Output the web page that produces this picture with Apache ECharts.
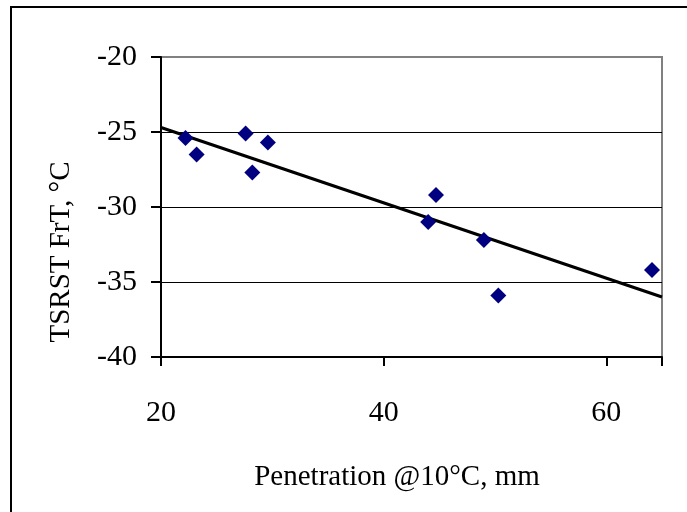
<!DOCTYPE html>
<html>
<head>
<meta charset="utf-8">
<script src="https://cdn.jsdelivr.net/npm/echarts@6/dist/echarts.min.js"></script>
<style>html,body{margin:0;padding:0;background:#fff;}#c{width:687px;height:512px;}</style>
</head>
<body>
<div id="c"></div>
<script>
const penetration = [22.2, 23.2, 27.6, 28.2, 29.6, 44.0, 44.7, 49.0, 50.3, 64.1];
const tsrstFrT = [-25.4, -26.5, -25.1, -27.7, -25.7, -31.0, -29.2, -32.2, -35.9, -34.2];
const trendX = [20, 65];
const trendY = [-24.7, -36.0];
const xTitle = 'Penetration @10°C, mm';
const yTitle = 'TSRST FrT, °C';

const font = 'Liberation Serif, Times New Roman, serif';
const chart = echarts.init(document.getElementById('c'), null, {renderer: 'canvas'});
chart.setOption({
  animation: false,
  backgroundColor: '#fff',
  grid: {left: 161, top: 57, right: 25, bottom: 155, show: true, borderColor: '#808080', borderWidth: 2, backgroundColor: 'transparent'},
  xAxis: {
    type: 'value', min: 20, max: 65, interval: 20,
    axisLine: {show: true, onZero: false, lineStyle: {color: '#000', width: 2}},
    axisTick: {show: true, length: 9, lineStyle: {color: '#000', width: 2}},
    axisLabel: {color: '#000', fontFamily: font, fontSize: 30, margin: 41,
      formatter: v => (v % 20 === 0 ? String(v) : '')},
    splitLine: {show: false}
  },
  yAxis: {
    type: 'value', min: -40, max: -20, interval: 5,
    axisLine: {show: true, onZero: false, lineStyle: {color: '#000', width: 2}},
    axisTick: {show: true, length: 10, lineStyle: {color: '#000', width: 2}},
    axisLabel: {color: '#000', fontFamily: font, fontSize: 30, margin: 24},
    splitLine: {show: true, showMinLine: false, showMaxLine: false, lineStyle: {color: '#000', width: 1}}
  },
  graphic: [
    {type: 'rect', shape: {x: 11, y: 7, width: 700, height: 520}, style: {fill: 'none', stroke: '#000', lineWidth: 2}, silent: true},
    {type: 'text', x: 397, y: 477, style: {text: xTitle, fontFamily: font, fontSize: 29, fill: '#000', align: 'center', verticalAlign: 'middle'}},
    {type: 'text', x: 61, y: 252, rotation: Math.PI / 2, style: {text: yTitle, fontFamily: font, fontSize: 29, fill: '#000', align: 'center', verticalAlign: 'middle'}}
  ],
  series: [
    {
      type: 'line', data: trendX.map((x, i) => [x, trendY[i]]),
      symbol: 'none', lineStyle: {color: '#000', width: 3}, z: 3, silent: true
    },
    {
      type: 'scatter', data: penetration.map((x, i) => [x, tsrstFrT[i]]),
      symbol: 'diamond', symbolSize: 16, itemStyle: {color: '#000080', opacity: 1}, z: 4
    }
  ]
});
</script>
</body>
</html>
